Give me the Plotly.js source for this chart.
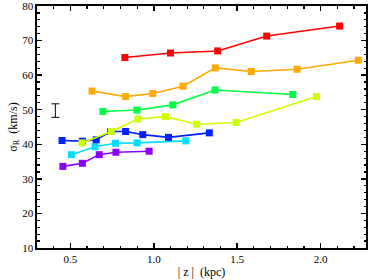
<!DOCTYPE html>
<html>
<head>
<meta charset="utf-8">
<script src="https://cdn.plot.ly/plotly-3.0.1.min.js"></script>
<style>html,body{margin:0;padding:0;background:#fff;}#chart{width:374px;height:280px;}</style>
</head>
<body>
<div id="chart"></div>
<script>
var redX = [0.827, 1.10, 1.383, 1.677, 2.114];
var redY = [65.1, 66.4, 67.0, 71.3, 74.2];
var orangeX = [0.630, 0.831, 0.994, 1.175, 1.369, 1.584, 1.859, 2.226];
var orangeY = [55.4, 53.8, 54.7, 56.8, 62.1, 61.05, 61.7, 64.3];
var greenX = [0.695, 0.899, 1.114, 1.367, 1.833];
var greenY = [49.5, 49.9, 51.4, 55.7, 54.4];
var limeX = [0.570, 0.745, 0.905, 1.070, 1.257, 1.494, 1.976];
var limeY = [40.4, 43.7, 47.3, 48.0, 45.8, 46.3, 53.8];
var blueX = [0.450, 0.572, 0.655, 0.741, 0.831, 0.934, 1.088, 1.333];
var blueY = [41.1, 40.9, 41.3, 43.7, 43.7, 42.8, 42.0, 43.3];
var cyanX = [0.506, 0.648, 0.771, 0.900, 1.192];
var cyanY = [37.0, 39.3, 40.3, 40.4, 41.0];
var purpleX = [0.455, 0.572, 0.673, 0.773, 0.972];
var purpleY = [33.6, 34.5, 37.0, 37.7, 38.0];
var errX = [0.41];
var errY = [49.75];
var errSize = [1.95];

var xTickVals = [0.5, 1.0, 1.5, 2.0];
var xTickText = ['0.5', '1.0', '1.5', '2.0'];
var yTickVals = [10, 20, 30, 40, 50, 60, 70, 80];
var yTickText = ['10', '20', '30', '40', '50', '60', '70', '80'];

function series(x, y, color) {
  return {
    x: x, y: y, type: 'scatter', mode: 'lines+markers',
    line: {color: color, width: 1.6},
    marker: {symbol: 'square', size: 7, color: color},
    showlegend: false, hoverinfo: 'none', cliponaxis: false
  };
}

var data = [
  series(purpleX, purpleY, '#8a00ff'),
  series(cyanX, cyanY, '#00ddff'),
  series(blueX, blueY, '#0022ff'),
  series(limeX, limeY, '#ccff00'),
  series(greenX, greenY, '#00ff44'),
  series(orangeX, orangeY, '#ffaa00'),
  series(redX, redY, '#ff0000'),
  {
    x: errX, y: errY, type: 'scatter', mode: 'markers',
    marker: {size: 1, color: 'rgba(0,0,0,0)'},
    error_y: {type: 'data', array: errSize, visible: true, color: '#000', thickness: 1, width: 4},
    showlegend: false, hoverinfo: 'none'
  }
];

var axisFont = {family: 'Liberation Serif', size: 12, color: '#000'};
var tickFont = {family: 'Liberation Serif', size: 11, color: '#000'};

var layout = {
  width: 374, height: 280,
  margin: {l: 37, r: 8, t: 6, b: 32, pad: 0},
  paper_bgcolor: '#fff', plot_bgcolor: '#fff',
  font: axisFont,
  showlegend: false,
  xaxis: {
    range: [0.3, 2.272],
    tickvals: xTickVals, ticktext: xTickText,
    ticks: 'inside', ticklen: 5, tickwidth: 1.5, tickcolor: '#000',
    minor: {dtick: 0.1, ticks: 'inside', ticklen: 2.5, tickcolor: '#000', tickwidth: 1.2},
    showline: true, linecolor: '#000', linewidth: 1.6, mirror: 'allticks',
    showgrid: false, zeroline: false,
    ticklabeloverflow: 'allow',
    tickfont: tickFont,
    title: {text: '| z |  (kpc)', font: axisFont, standoff: 4}
  },
  yaxis: {
    range: [10, 80],
    tickvals: yTickVals, ticktext: yTickText,
    ticks: 'inside', ticklen: 5, tickwidth: 1.5, tickcolor: '#000',
    minor: {dtick: 2, ticks: 'inside', ticklen: 2.5, tickcolor: '#000', tickwidth: 1.2},
    showline: true, linecolor: '#000', linewidth: 1.6, mirror: 'allticks',
    showgrid: false, zeroline: false,
    ticklabeloverflow: 'allow',
    tickfont: tickFont,
    title: {text: 'σ<sub>R</sub>  (km/s)', font: axisFont, standoff: 2}
  }
};

Plotly.newPlot('chart', data, layout, {staticPlot: true, displayModeBar: false});
</script>
</body>
</html>
